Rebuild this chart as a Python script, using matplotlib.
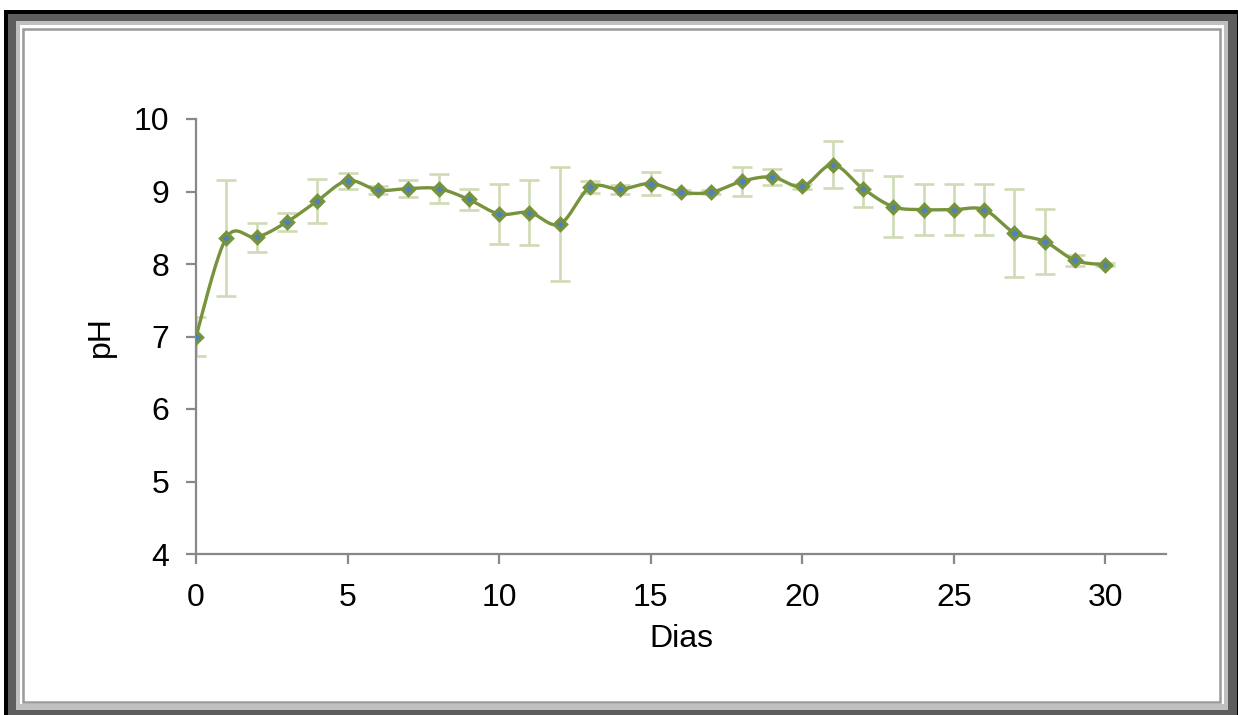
import numpy as np
import matplotlib
matplotlib.use("Agg")
import matplotlib.pyplot as plt
from matplotlib.patches import Rectangle

# data
dias = list(range(0, 31))
ph = [7.00, 8.36, 8.37, 8.58, 8.87, 9.15, 9.02, 9.04, 9.04, 8.89,
      8.69, 8.71, 8.55, 9.06, 9.03, 9.11, 8.99, 8.99, 9.14, 9.20,
      9.07, 9.37, 9.04, 8.79, 8.75, 8.75, 8.75, 8.43, 8.31, 8.05,
      7.99]
ph_err = [0.27, 0.80, 0.20, 0.12, 0.30, 0.11, 0.05, 0.12, 0.20, 0.14,
          0.42, 0.45, 0.79, 0.08, 0.06, 0.16, 0.03, 0.03, 0.20, 0.11,
          0.03, 0.32, 0.26, 0.42, 0.35, 0.35, 0.35, 0.61, 0.45, 0.08,
          0.02]
xticks = [0, 5, 10, 15, 20, 25, 30]
yticks = [4, 5, 6, 7, 8, 9, 10]

W, H = 1238, 715
LINE = "#77933C"
ERR = "#CFDBB4"


def smooth(x, y, n=20):
    # Excel-like smoothed line (Catmull-Rom as cubic Bezier, tension 1/6)
    x = np.asarray(x, float)
    y = np.asarray(y, float)
    px = np.concatenate([[x[0]], x, [x[-1]]])
    py = np.concatenate([[y[0]], y, [y[-1]]])
    t = np.linspace(0, 1, n)
    xs, ys = [], []
    for i in range(1, len(px) - 2):
        p0 = np.array([px[i], py[i]])
        p3 = np.array([px[i + 1], py[i + 1]])
        c1 = p0 + (p3 - np.array([px[i - 1], py[i - 1]])) / 6.0
        c2 = p3 - (np.array([px[i + 2], py[i + 2]]) - p0) / 6.0
        b = ((1 - t) ** 3)[:, None] * p0 + (3 * (1 - t) ** 2 * t)[:, None] * c1 \
            + (3 * (1 - t) * t ** 2)[:, None] * c2 + (t ** 3)[:, None] * p3
        xs.extend(b[:, 0])
        ys.extend(b[:, 1])
    return xs, ys


def frect(fig, x0, y0, x1, y1, **kw):
    # rectangle in pixel coords (origin top-left), kept behind the axes
    fig.patches.append(Rectangle((x0 / W, 1 - y1 / H), (x1 - x0) / W, (y1 - y0) / H,
                                 transform=fig.transFigure, figure=fig, zorder=-10, **kw))


plt.rcParams["font.family"] = ["Liberation Sans", "DejaVu Sans"]

fig = plt.figure(figsize=(W / 100, H / 100), dpi=100)

# picture frame
frect(fig, 4, 10, W + 5, H + 5, facecolor="black", linewidth=0)
frect(fig, 8, 13.5, 1237, H + 5, facecolor="#5E5E5E", linewidth=0)
frect(fig, 16, 20.5, 1228, 710, facecolor="#C0C0C0", linewidth=0)
frect(fig, 20, 25, 1224, 704, facecolor="white", linewidth=0)
frect(fig, 23, 28.5, 1220, 701.5, facecolor="white", edgecolor="#9A9A9A", linewidth=1.8)

ax = fig.add_axes([196 / W, 1 - 554 / H, (1166 - 196) / W, (554 - 119) / H])
ax.set_facecolor("none")

ax.errorbar(dias, ph, yerr=ph_err, fmt="none", ecolor=ERR, elinewidth=1.9,
            capsize=7, capthick=1.9, zorder=2)
sx, sy = smooth(dias, ph)
ax.plot(sx, sy, color=LINE, linewidth=2.4, zorder=3)
ax.plot(dias, ph, linestyle="none", marker="D", markersize=6.5,
        markerfacecolor="#4F81BD", markeredgecolor=LINE, markeredgewidth=2.4, zorder=4)

ax.set_xlim(0, 32)
ax.set_ylim(4, 10)
ax.set_xticks(xticks)
ax.set_yticks(yticks)
for s in ("top", "right"):
    ax.spines[s].set_visible(False)
for s in ("left", "bottom"):
    ax.spines[s].set_color("#888888")
    ax.spines[s].set_linewidth(1.6)
ax.tick_params(direction="out", length=7, width=1.6, color="#888888",
               labelsize=23)
ax.tick_params(axis="y", pad=12)
ax.tick_params(axis="x", pad=14)

ax.set_xlabel("Dias", fontsize=23, labelpad=8)
ax.set_ylabel("pH", fontsize=23, labelpad=13)

fig.savefig("out.png", dpi=100)
